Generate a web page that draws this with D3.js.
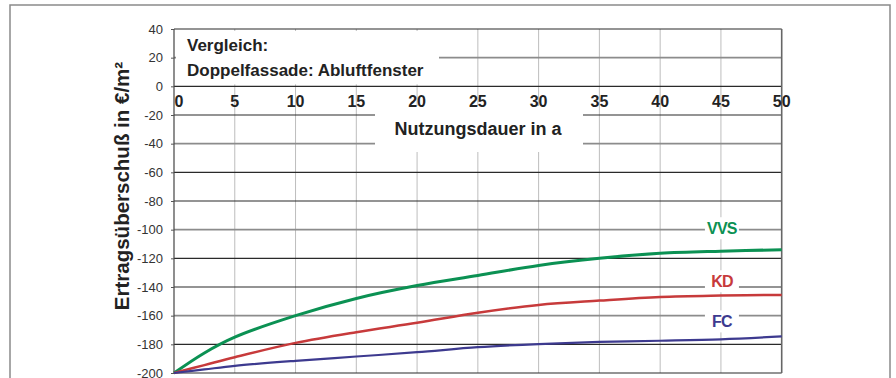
<!DOCTYPE html>
<html>
<head>
<meta charset="utf-8">
<script src="https://cdn.jsdelivr.net/npm/d3@7"></script>
<style>
  body { margin: 0; background: #fff; }
  svg { display: block; font-family: "Liberation Sans", Arial, sans-serif; }
</style>
</head>
<body>
<div id="chart"></div>
<script>
// years of use (x) and yield surplus in EUR/m2 (y)
const years = [0, 2.5, 5, 10, 15, 20, 25, 30, 35, 40, 45, 50];
const vvsValues = [-200, -186, -175, -160, -148, -139, -132, -125, -120, -116.5, -115, -114];
const kdValues  = [-200, -194.5, -189, -179, -171.5, -165, -158, -152.5, -149.5, -147, -146, -145.5];
const fcValues  = [-200, -197.5, -195, -191.5, -188.5, -185.5, -182, -179.8, -178.3, -177.5, -176.5, -174.5];

const seriesNames = ["VVS", "KD", "FC"];
const seriesColors = ["#0b9153", "#c73a3b", "#3d3a8f"];
const seriesWidths = [3, 2.5, 2.2];
const labelYears = [45, 45, 45];
const labelValues = [-99, -136, -164];

const yTicks = d3.range(40, -201, -20);
const xTicks = d3.range(0, 51, 5);

const titleLines = ["Vergleich:", "Doppelfassade: Abluftfenster"];
const xTitle = "Nutzungsdauer in a";
const yTitle = "Ertragsüberschuß in €/m²";

const width = 896, height = 378;
const margin = {top: 29, left: 174, right: 114, bottom: 5};

const svg = d3.select("#chart").append("svg")
    .attr("width", width)
    .attr("height", height);

// outer frame
svg.append("rect")
    .attr("x", 10).attr("y", 5)
    .attr("width", 880).attr("height", 390)
    .attr("fill", "none")
    .attr("stroke", "#8a8a8a")
    .attr("stroke-width", 1.5);

const x = d3.scaleLinear().domain([0, 50]).range([margin.left, width - margin.right - 0.3]);
const y = d3.scaleLinear().domain([-200, 40]).range([373, margin.top]);

// vertical grid
svg.append("g")
    .selectAll("line")
    .data(xTicks.filter(d => d > 0 && d < 50))
    .join("line")
    .attr("x1", d => x(d)).attr("x2", d => x(d))
    .attr("y1", y(40)).attr("y2", y(-200))
    .attr("stroke", "#bdbdbd")
    .attr("stroke-width", 1);

// horizontal grid
svg.append("g")
    .selectAll("line")
    .data(yTicks)
    .join("line")
    .attr("x1", x(0)).attr("x2", x(50))
    .attr("y1", d => y(d)).attr("y2", d => y(d))
    .attr("stroke", d => ((d - 20) % 60 === 0) ? "#8c8c8c" : "#2a2a2a")
    .attr("stroke-width", d => ((d - 20) % 60 === 0) ? 1.8 : 1.1);

// plot frame left/right
svg.append("line")
    .attr("x1", x(0)).attr("x2", x(0))
    .attr("y1", y(40)).attr("y2", y(-200))
    .attr("stroke", "#444").attr("stroke-width", 1.2);
svg.append("line")
    .attr("x1", x(50)).attr("x2", x(50))
    .attr("y1", y(40)).attr("y2", y(-200))
    .attr("stroke", "#666").attr("stroke-width", 1.6);

// y axis
const yAxis = d3.axisLeft(y)
    .tickValues(yTicks)
    .tickSize(3)
    .tickPadding(8)
    .tickFormat(d => d);
const yAxisG = svg.append("g")
    .attr("transform", `translate(${x(0)},0)`)
    .call(yAxis);
yAxisG.select(".domain").remove();
yAxisG.selectAll(".tick line").attr("stroke", "#555");
yAxisG.selectAll(".tick text")
    .attr("font-size", 13)
    .attr("fill", "#333")
    .attr("font-family", "'Liberation Sans', Arial, sans-serif");

// title box
svg.append("rect")
    .attr("x", x(0) + 2).attr("y", y(40) + 2)
    .attr("width", 263).attr("height", y(0) - y(40) - 4)
    .attr("fill", "#fff");
svg.append("g")
    .selectAll("text")
    .data(titleLines)
    .join("text")
    .attr("x", x(0) + 13)
    .attr("y", (d, i) => 51 + i * 25)
    .attr("font-size", 17)
    .attr("font-weight", "bold")
    .attr("fill", "#222")
    .text(d => d);

// x title box
svg.append("rect")
    .attr("x", 375).attr("y", 106)
    .attr("width", 208).attr("height", 46)
    .attr("fill", "#fff");
svg.append("text")
    .attr("x", 478).attr("y", 135)
    .attr("text-anchor", "middle")
    .attr("font-size", 18)
    .attr("font-weight", "bold")
    .attr("fill", "#222")
    .text(xTitle);

// x tick labels (inside the plot, below the zero line)
svg.append("g")
    .selectAll("text")
    .data(xTicks)
    .join("text")
    .attr("x", d => x(d) + (d === 0 ? 5 : 0))
    .attr("y", y(0) + 21)
    .attr("text-anchor", "middle")
    .attr("font-size", 16)
    .attr("font-weight", "bold")
    .attr("fill", "#222")
    .text(d => d);

// y title
svg.append("text")
    .attr("transform", `translate(129,186) rotate(-90)`)
    .attr("text-anchor", "middle")
    .attr("font-size", 20.5)
    .attr("font-weight", "bold")
    .attr("fill", "#222")
    .text(yTitle);

// lines
const allSeries = [vvsValues, kdValues, fcValues];
const line = d3.line()
    .x((d, i) => x(years[i]))
    .y(d => y(d))
    .curve(d3.curveCatmullRom.alpha(0.5));

svg.append("g")
    .selectAll("path")
    .data(allSeries)
    .join("path")
    .attr("d", d => line(d))
    .attr("fill", "none")
    .attr("stroke", (d, i) => seriesColors[i])
    .attr("stroke-width", (d, i) => seriesWidths[i]);

// series labels with white backing
const labels = svg.append("g")
    .selectAll("g")
    .data(seriesNames)
    .join("g")
    .attr("transform", (d, i) => `translate(${x(labelYears[i]) + 1},${y(labelValues[i])})`);
labels.append("rect")
    .attr("x", -17).attr("y", -11)
    .attr("width", 34).attr("height", 22)
    .attr("fill", "#fff");
labels.append("text")
    .attr("text-anchor", "middle")
    .attr("dy", "0.36em")
    .attr("font-size", 16)
    .attr("font-weight", "bold")
    .attr("letter-spacing", -0.8)
    .attr("fill", (d, i) => seriesColors[i])
    .text(d => d);
</script>
</body>
</html>
